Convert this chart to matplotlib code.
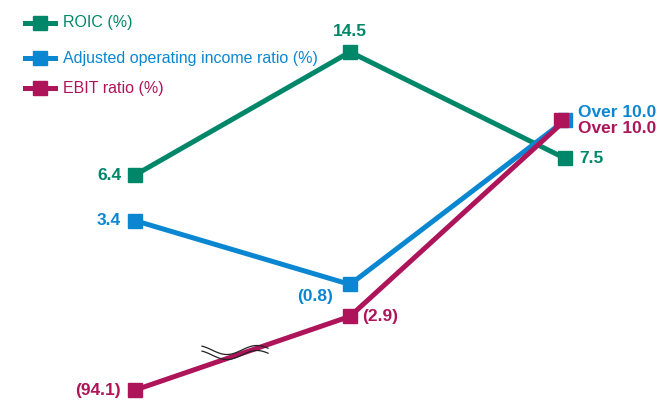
import numpy as np
import matplotlib
matplotlib.use("Agg")
import matplotlib.pyplot as plt
from matplotlib import transforms

# Fiscal points (three periods, no axis labels in the original)
x_pos = [0, 1, 2]

roic = [6.4, 14.5, 7.5]
roic_labels = ["6.4", "14.5", "7.5"]

adj_ratio = [3.4, -0.8, 10.0]
adj_labels = ["3.4", "(0.8)", "Over 10.0"]

ebit_ratio = [-94.1, -2.9, 10.0]
ebit_labels = ["(94.1)", "(2.9)", "Over 10.0"]
# the first EBIT point sits below an axis break, drawn at this position
ebit_break_value = -7.75

series_names = ["ROIC", "Adjusted operating income ratio", "EBIT ratio"]

GREEN = "#00876a"
BLUE = "#0b87d2"
MAGENTA = "#ae1459"

plt.rcParams["font.family"] = ["Liberation Sans", "DejaVu Sans"]

fig = plt.figure(figsize=(6.65, 4.01), dpi=100)
ax = fig.add_axes([0, 0, 1, 1])
ax.set_xlim(-0.628, 2.465)
ax.set_ylim(-8.47, 17.92)
ax.axis("off")

lw = 3.6
ms = 10

# values used for drawing (break point replaced)
ebit_plot = [ebit_break_value] + ebit_ratio[1:]

ax.plot(x_pos, roic, color=GREEN, lw=lw, marker="s", ms=ms, solid_joinstyle="miter", zorder=3)
ax.plot(x_pos, adj_ratio, color=BLUE, lw=lw, marker="s", ms=ms, solid_joinstyle="miter", zorder=4)

# magenta end marker is shifted slightly left so the blue one peeks out
shift = transforms.ScaledTranslation(-4 / 100, 0, fig.dpi_scale_trans)
ax.plot(x_pos, ebit_plot, color=MAGENTA, lw=lw, solid_joinstyle="miter", zorder=5)
ax.plot(x_pos[:2], ebit_plot[:2], ls="none", color=MAGENTA, marker="s", ms=ms, zorder=6)
ax.plot(x_pos[2:], ebit_plot[2:], ls="none", color=MAGENTA, marker="s", ms=ms, zorder=6,
        transform=ax.transData + shift)

# axis break marker (two wavy strokes)
t = np.linspace(0, 1, 100)
wx = 202 + 66 * t
wy = 351 + 4.5 * np.sin(2 * np.pi * (t - 0.15) * 1.1)
for off in (0, 5):
    ax.plot(wx / 665, 1 - (wy + off - 1) / 401, color="#222222", lw=0.9,
            transform=ax.transAxes, zorder=7)

fs = 12.5
lab = dict(fontsize=fs, fontweight="bold")

# ROIC labels
ax.annotate(roic_labels[0], (x_pos[0], roic[0]), xytext=(-10, 0), textcoords="offset points",
            ha="right", va="center", color=GREEN, **lab)
ax.annotate(roic_labels[1], (x_pos[1], roic[1]), xytext=(0, 9), textcoords="offset points",
            ha="center", va="bottom", color=GREEN, **lab)
ax.annotate(roic_labels[2], (x_pos[2], roic[2]), xytext=(10, 0), textcoords="offset points",
            ha="left", va="center", color=GREEN, **lab)

# adjusted operating income ratio labels
ax.annotate(adj_labels[0], (x_pos[0], adj_ratio[0]), xytext=(-10, 0), textcoords="offset points",
            ha="right", va="center", color=BLUE, **lab)
ax.annotate(adj_labels[1], (x_pos[1], adj_ratio[1]), xytext=(-12, -9), textcoords="offset points",
            ha="right", va="center", color=BLUE, **lab)
ax.annotate(adj_labels[2], (x_pos[2], adj_ratio[2]), xytext=(9, 5.5), textcoords="offset points",
            ha="left", va="center", color=BLUE, **lab)

# EBIT ratio labels
ax.annotate(ebit_labels[0], (x_pos[0], ebit_plot[0]), xytext=(-10, 0), textcoords="offset points",
            ha="right", va="center", color=MAGENTA, **lab)
ax.annotate(ebit_labels[1], (x_pos[1], ebit_plot[1]), xytext=(9, 0), textcoords="offset points",
            ha="left", va="center", color=MAGENTA, **lab)
ax.annotate(ebit_labels[2], (x_pos[2], ebit_plot[2]), xytext=(9, -6), textcoords="offset points",
            ha="left", va="center", color=MAGENTA, **lab)

# legend drawn by hand at top left
colors = [GREEN, BLUE, MAGENTA]
leg_y = [23, 58, 88]
for name, c, yy in zip(series_names, colors, leg_y):
    yf = 1 - yy / 401
    ax.plot([25 / 665, 55 / 665], [yf, yf], color=c, lw=lw, transform=ax.transAxes, zorder=3)
    ax.plot([40 / 665], [yf], color=c, marker="s", ms=9.5, transform=ax.transAxes, zorder=3)
    ax.text(63 / 665, yf, name + " (%)", color=c, fontsize=11.5,
            ha="left", va="center", transform=ax.transAxes)

fig.savefig("out.png", dpi=100)
